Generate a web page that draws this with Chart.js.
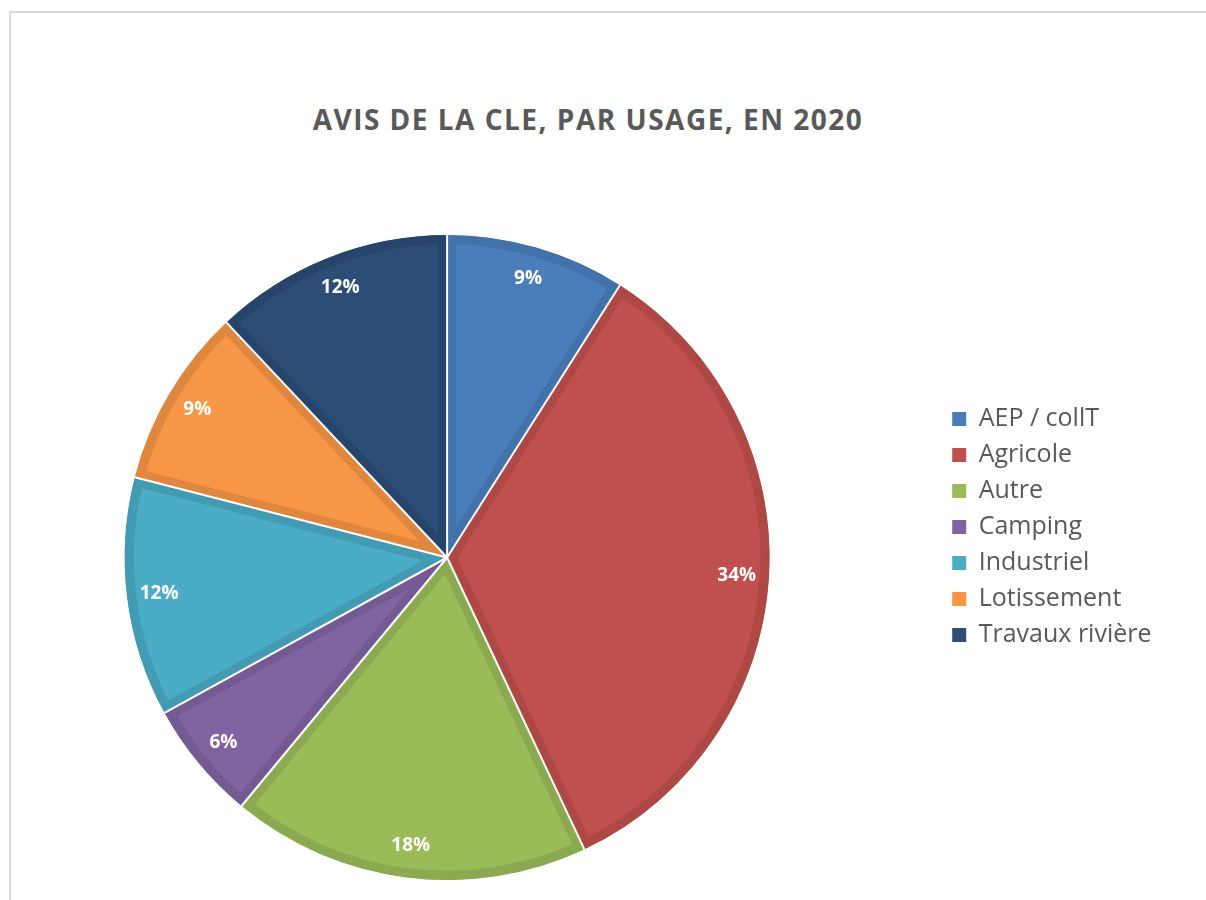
<!DOCTYPE html>
<html>
<head>
<meta charset="utf-8">
<script src="https://cdn.jsdelivr.net/npm/chart.js@4/dist/chart.umd.min.js"></script>
<style>
    html, body { margin: 0; padding: 0; width: 1206px; height: 900px; overflow: hidden; background: #fff; }
    #frame { position: absolute; left: 9px; top: 11px; width: 1300px; height: 1000px; border: 2px solid #d9d9d9; box-sizing: border-box; }
    #title { position: absolute; left: 0; width: 1176px; top: 99px; line-height: 40px; text-align: center; letter-spacing: 1.5px;
             font-family: "Open Sans", sans-serif; font-weight: bold; font-size: 28px; color: #595959; white-space: nowrap; }
    #wrap { position: absolute; left: -47px; top: 0; width: 1300px; height: 900px; }
</style>
</head>
<body>
<div id="frame"></div>
<div id="title">AVIS DE LA CLE, PAR USAGE, EN 2020</div>
<div id="wrap"><canvas id="pie-chart" width="1300" height="900"></canvas></div>
<script>
// usages and share of avis (%)
const usages = ["AEP / collT", "Agricole", "Autre", "Camping", "Industriel", "Lotissement", "Travaux rivière"];
const shares = [9, 34, 18, 6, 12, 9, 12];
const fills = ["#4a7ebb", "#c0504d", "#9bbb59", "#8064a2", "#4bacc6", "#f79646", "#2c4d75"];
const edges = ["#4372aa", "#ad4845", "#8ba950", "#735a93", "#439bb3", "#df873f", "#27456a"];

// white separators + percent labels inside the slices
const sliceLabels = {
    id: 'sliceLabels',
    afterDatasetsDraw(chart) {
        const { ctx } = chart;
        const arcs = chart.getDatasetMeta(0).data;
        const total = shares.reduce((a, v) => a + v, 0);
        ctx.save();
        ctx.strokeStyle = '#ffffff';
        ctx.lineWidth = 2;
        arcs.forEach(arc => {
            ctx.beginPath();
            ctx.moveTo(arc.x, arc.y);
            ctx.lineTo(arc.x + Math.cos(arc.startAngle) * arc.outerRadius, arc.y + Math.sin(arc.startAngle) * arc.outerRadius);
            ctx.stroke();
        });
        ctx.fillStyle = '#ffffff';
        ctx.font = 'bold 19px "Open Sans"';
        ctx.textAlign = 'center';
        ctx.textBaseline = 'middle';
        arcs.forEach((arc, i) => {
            const mid = (arc.startAngle + arc.endAngle) / 2;
            const r = arc.outerRadius * 0.9;
            ctx.fillText(Math.round(shares[i] / total * 100) + '%', arc.x + Math.cos(mid) * r, arc.y + Math.sin(mid) * r);
        });
        ctx.restore();
    }
};

new Chart(document.getElementById('pie-chart'), {
    type: 'pie',
    data: {
        labels: usages,
        datasets: [{
            data: shares,
            backgroundColor: fills,
            borderColor: edges,
            borderWidth: 9,
            borderAlign: 'inner',
            hoverOffset: 0,
            offset: 0
        }]
    },
    options: {
        responsive: false,
        animation: false,
        events: [],
        layout: { padding: { top: 235, bottom: 20, left: 0, right: 91.5 } },
        plugins: {
            tooltip: { enabled: false },
            legend: {
                position: 'right',
                align: 'start',
                title: { display: true, text: '', font: { size: 12 }, padding: { top: 0, bottom: 146 } },
                labels: {
                    color: '#595959',
                    font: { family: 'Open Sans', size: 25 },
                    boxWidth: 14,
                    boxHeight: 14,
                    padding: 11,
                    generateLabels(chart) {
                        return Chart.controllers.pie.overrides.plugins.legend.labels.generateLabels(chart)
                            .map(item => ({ ...item, lineWidth: 0 }));
                    }
                }
            }
        }
    },
    plugins: [sliceLabels]
});
</script>
</body>
</html>
